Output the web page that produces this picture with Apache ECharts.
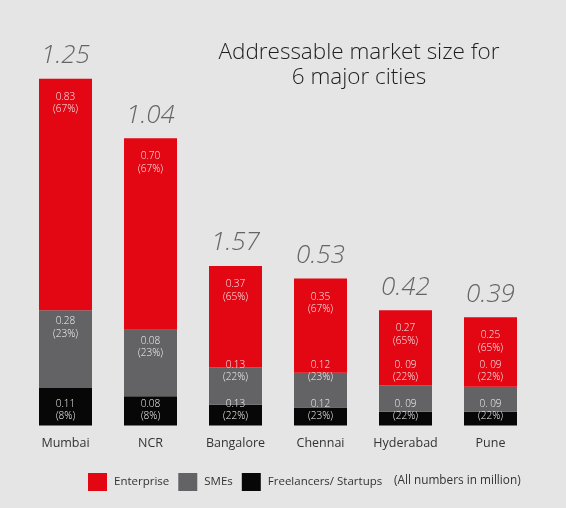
<!DOCTYPE html>
<html>
<head>
<meta charset="utf-8">
<script src="https://cdn.jsdelivr.net/npm/echarts@6/dist/echarts.min.js"></script>
<style>
html,body{margin:0;padding:0;background:#e5e5e5;}
#chart{width:566px;height:508px;}
</style>
</head>
<body>
<div id="chart"></div>
<script>
// ---- data ----
const cities = ['Mumbai', 'NCR', 'Bangalore', 'Chennai', 'Hyderabad', 'Pune'];
// bar segment heights (million), as drawn
const enterprise  = [0.835, 0.69, 0.365, 0.34, 0.27, 0.25];
const smes        = [0.28, 0.24, 0.135, 0.125, 0.095, 0.09];
const freelancers = [0.135, 0.105, 0.075, 0.065, 0.05, 0.05];
// printed labels
const totalText      = ['1.25', '1.04', '1.57', '0.53', '0.42', '0.39'];
const enterpriseText = ['0.83', '0.70', '0.37', '0.35', '0.27', '0.25'];
const enterprisePct  = ['67%', '67%', '65%', '67%', '65%', '65%'];
const smesText       = ['0.28', '0.08', '0.13', '0.12', '0. 09', '0. 09'];
const smesPct        = ['23%', '23%', '22%', '23%', '22%', '22%'];
const freelText      = ['0.11', '0.08', '0.13', '0.12', '0. 09', '0. 09'];
const freelPct       = ['8%', '8%', '22%', '23%', '22%', '22%'];
const yTicks = [0, 1.4];

// ---- chart ----
const GRID = {left: 23, right: 33, top: 37, bottom: 82.5};
const chart = echarts.init(document.getElementById('chart'), null, {renderer: 'canvas'});
const FONT = 'Open Sans';
const totals = cities.map((c, i) => enterprise[i] + smes[i] + freelancers[i]);

const segLabel = (texts, pcts, pos, dist) => ({
  show: true,
  position: pos,
  distance: dist,
  color: '#f2f2f2',
  fontFamily: FONT,
  fontWeight: 300,
  fontSize: 10,
  lineHeight: 12.5,
  formatter: p => texts[p.dataIndex] + '\n(' + pcts[p.dataIndex] + ')'
});

const option = {
  backgroundColor: '#e5e5e5',
  animation: false,
  title: {
    text: 'Addressable market size for\n6 major cities',
    left: 354,
    top: 35,
    textAlign: 'center',
    textStyle: {fontFamily: FONT, fontWeight: 300, fontSize: 22.5, lineHeight: 25, color: '#1e1e1e'}
  },
  legend: {
    data: ['Enterprise', 'SMEs', 'Freelancers/ Startups'],
    left: 88,
    top: 473,
    padding: 0,
    itemWidth: 19,
    itemHeight: 18,
    itemGap: 9,
    icon: 'rect',
    textStyle: {fontFamily: FONT, fontSize: 11.5, color: '#333', padding: [0, 0, 0, 2]}
  },
  graphic: [{
    type: 'text',
    left: 394,
    top: 475,
    style: {text: '(All numbers in million)', font: '11.8px "Open Sans"', fill: '#333'}
  }],
  grid: GRID,
  xAxis: {
    type: 'category',
    data: cities,
    axisLine: {show: false},
    axisTick: {show: false},
    axisLabel: {margin: 11, fontFamily: FONT, fontSize: 12.5, color: '#333'}
  },
  yAxis: {
    type: 'value',
    min: yTicks[0],
    max: yTicks[1],
    show: false,
    splitLine: {show: false}
  },
  series: [
    {
      name: 'Freelancers/ Startups', type: 'bar', stack: 'm', barWidth: 53,
      itemStyle: {color: '#070707'},
      data: freelancers,
      label: segLabel(freelText, freelPct, 'insideBottom', 3)
    },
    {
      name: 'SMEs', type: 'bar', stack: 'm', barWidth: 53,
      itemStyle: {color: '#636366'},
      data: smes,
      label: segLabel(smesText, smesPct, 'insideTop', 5),
      labelLayout: function (p) {
        const base = chart.getHeight() - GRID.bottom;
        const maxBottom = base - 42;
        const lb = p.labelRect.y + p.labelRect.height;
        return lb > maxBottom ? {dy: maxBottom - lb} : {};
      }
    },
    {
      name: 'Enterprise', type: 'bar', stack: 'm', barWidth: 53,
      itemStyle: {color: '#e30613'},
      data: enterprise,
      label: segLabel(enterpriseText, enterprisePct, 'insideTop', 12)
    },
    {
      name: 'total', type: 'scatter', symbolSize: 0,
      data: totals.map((t, i) => [i, t]),
      label: {
        show: true, position: 'top', distance: 10,
        fontFamily: FONT, fontWeight: 300, fontStyle: 'italic', fontSize: 26,
        color: '#454545',
        formatter: p => totalText[p.dataIndex]
      },
      silent: true
    }
  ]
};
chart.setOption(option);
</script>
</body>
</html>
